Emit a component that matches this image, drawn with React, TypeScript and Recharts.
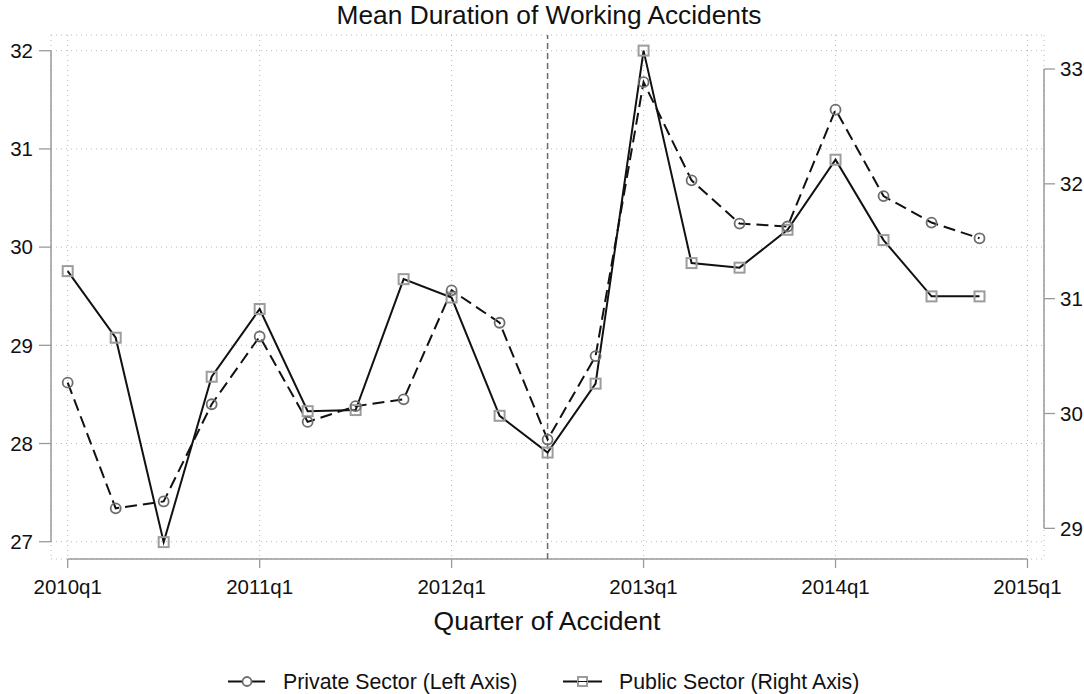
import {
  LineChart, Line, XAxis, YAxis, CartesianGrid, ReferenceLine,
} from 'recharts';

const quarters = [
  '2010q1', '2010q2', '2010q3', '2010q4',
  '2011q1', '2011q2', '2011q3', '2011q4',
  '2012q1', '2012q2', '2012q3', '2012q4',
  '2013q1', '2013q2', '2013q3', '2013q4',
  '2014q1', '2014q2', '2014q3', '2014q4',
];

// private sector, left axis
const privateSector = [
  28.62, 27.34, 27.41, 28.40, 29.09, 28.22, 28.38, 28.45, 29.56, 29.23,
  28.04, 28.89, 31.68, 30.68, 30.24, 30.21, 31.40, 30.52, 30.25, 30.09,
];

// public sector, right axis
const publicSector = [
  31.24, 30.66, 28.88, 30.32, 30.91, 30.02, 30.03, 31.17, 31.01, 29.98,
  29.66, 30.26, 33.16, 31.31, 31.27, 31.60, 32.21, 31.51, 31.02, 31.02,
];

const xTickPos = [0, 4, 8, 12, 16, 20];
const xTickLabels = ['2010q1', '2011q1', '2012q1', '2013q1', '2014q1', '2015q1'];
const leftTicks = [27, 28, 29, 30, 31, 32];
const rightTicks = [29, 30, 31, 32, 33];
const reformQuarter = 10; // 2012q3

const rows = quarters.map((q, i) => ({
  x: i,
  label: q,
  priv: privateSector[i],
  pub: publicSector[i],
}));

// axis ranges so the plot region lines up with the original
const X_MIN = -0.348;
const X_MAX = 20.344;
const LEFT_MIN = 26.824;
const LEFT_MAX = 32.16;
const RIGHT_MIN = 28.733;
const RIGHT_MAX = 33.296;

const AXIS = '#9a9a9a';
const FONT = "'Liberation Sans', Arial, sans-serif";

const CircleDot = (props: any) => {
  const { cx, cy, index } = props;
  return <circle key={`c${index}`} cx={cx} cy={cy} r={5} fill="none" stroke="#6e6e6e" strokeWidth={1.8} />;
};

const SquareDot = (props: any) => {
  const { cx, cy, index } = props;
  return <rect key={`s${index}`} x={cx - 5} y={cy - 5} width={10} height={10} fill="none" stroke="#9c9c9c" strokeWidth={2} />;
};

export default function App() {
  return (
    <div style={{ position: 'absolute', left: 0, top: 0, width: 1084, height: 694, background: '#fff', fontFamily: FONT }}>
      <LineChart
        width={1084}
        height={694}
        data={rows}
        margin={{ top: 35, right: 0, bottom: 85, left: 0 }}
        style={{ fontFamily: FONT }}
      >
        <CartesianGrid yAxisId="left" stroke="#b8b8b8" strokeDasharray="1 4" />
        <XAxis
          dataKey="x"
          type="number"
          domain={[X_MIN, X_MAX]}
          allowDataOverflow
          ticks={xTickPos}
          interval={0}
          tickFormatter={(v) => xTickLabels[xTickPos.indexOf(v)]}
          axisLine={false}
          tickLine={{ stroke: AXIS, strokeWidth: 1.3 }}
          tickSize={9}
          tickMargin={11}
          height={50}
          tick={{ fill: '#111', fontSize: 20.5 }}
        />
        <YAxis
          yAxisId="left"
          orientation="left"
          type="number"
          domain={[LEFT_MIN, LEFT_MAX]}
          allowDataOverflow
          ticks={leftTicks}
          interval={0}
          width={51}
          axisLine={false}
          tickLine={{ stroke: AXIS, strokeWidth: 1.3 }}
          tickSize={12}
          tickMargin={6}
          tick={{ fill: '#111', fontSize: 20.5 }}
        />
        <YAxis
          yAxisId="right"
          orientation="right"
          type="number"
          domain={[RIGHT_MIN, RIGHT_MAX]}
          allowDataOverflow
          ticks={rightTicks}
          interval={0}
          width={40}
          axisLine={false}
          tickLine={{ stroke: AXIS, strokeWidth: 1.3 }}
          tickSize={11}
          tickMargin={5}
          tick={{ fill: '#111', fontSize: 20.5 }}
        />

        {/* axis lines only span the labelled range, as in Stata */}
        <ReferenceLine
          yAxisId="left"
          segment={[{ x: X_MIN, y: leftTicks[0] }, { x: X_MIN, y: leftTicks[leftTicks.length - 1] }]}
          stroke={AXIS}
          strokeWidth={1.5}
          ifOverflow="visible"
        />
        <ReferenceLine
          yAxisId="right"
          segment={[{ x: X_MAX, y: rightTicks[0] }, { x: X_MAX, y: rightTicks[rightTicks.length - 1] }]}
          stroke={AXIS}
          strokeWidth={1.5}
          ifOverflow="visible"
        />
        <ReferenceLine
          yAxisId="left"
          segment={[{ x: xTickPos[0], y: LEFT_MIN }, { x: xTickPos[xTickPos.length - 1], y: LEFT_MIN }]}
          stroke={AXIS}
          strokeWidth={1.5}
          ifOverflow="visible"
        />
        <ReferenceLine
          yAxisId="left"
          x={reformQuarter}
          stroke="#6a6a6a"
          strokeWidth={1.5}
          strokeDasharray="6 4"
        />

        <Line
          yAxisId="right"
          dataKey="pub"
          type="linear"
          stroke="#111"
          strokeWidth={2}
          dot={SquareDot}
          activeDot={false}
          isAnimationActive={false}
        />
        <Line
          yAxisId="left"
          dataKey="priv"
          type="linear"
          stroke="#111"
          strokeWidth={2}
          strokeDasharray="12 6"
          dot={CircleDot}
          activeDot={false}
          isAnimationActive={false}
        />
      </LineChart>

      <svg width={1084} height={694} style={{ position: 'absolute', left: 0, top: 0, pointerEvents: 'none' }}>
        <text x={549} y={23.5} textAnchor="middle" fontSize={26.3} fill="#111" fontFamily={FONT}>
          Mean Duration of Working Accidents
        </text>
        <text x={547} y={630} textAnchor="middle" fontSize={26.5} fill="#111" fontFamily={FONT}>
          Quarter of Accident
        </text>

        <line x1={228} y1={681.5} x2={265} y2={681.5} stroke="#111" strokeWidth={2} />
        <circle cx={247} cy={681.5} r={4.5} fill="#fff" stroke="#6e6e6e" strokeWidth={1.8} />
        <text x={283} y={688.5} fontSize={21.3} fill="#111" fontFamily={FONT}>Private Sector (Left Axis)</text>

        <line x1={563} y1={681.5} x2={602} y2={681.5} stroke="#111" strokeWidth={2} />
        <rect x={578} y={677} width={9} height={9} fill="#fff" stroke="#9c9c9c" strokeWidth={2} />
        <line x1={578} y1={681.5} x2={587} y2={681.5} stroke="#111" strokeWidth={1} />
        <text x={619} y={688.5} fontSize={21.3} fill="#111" fontFamily={FONT}>Public Sector (Right Axis)</text>
      </svg>
    </div>
  );
}
